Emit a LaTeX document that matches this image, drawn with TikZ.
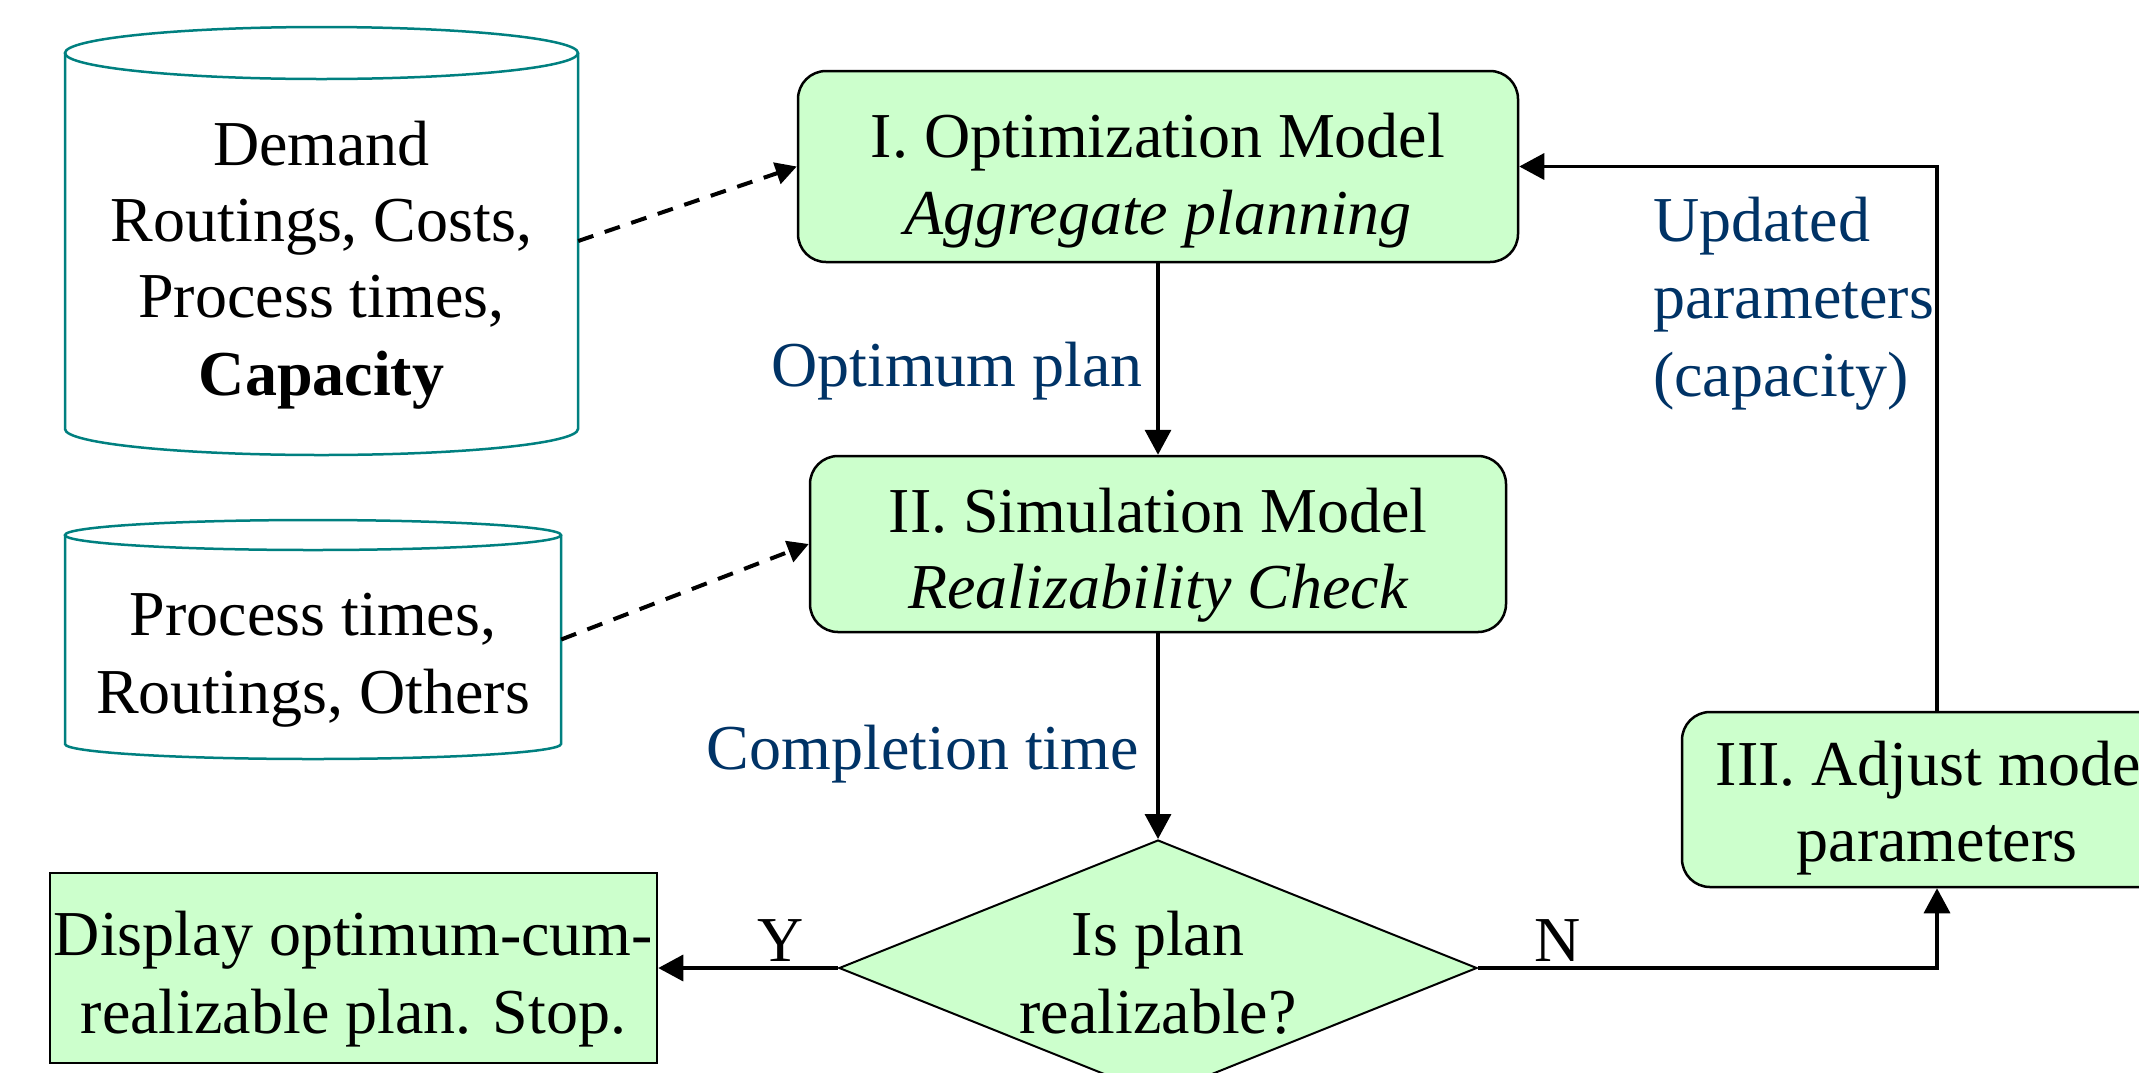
\documentclass[tikz,border=0pt]{standalone}
\usepackage{fontspec}
\setmainfont{Liberation Serif}
\usetikzlibrary{arrows.meta,shapes.geometric}
\definecolor{boxgreen}{HTML}{CCFFCC}
\definecolor{lblblue}{HTML}{003366}
\definecolor{cylteal}{HTML}{008080}
\begin{document}
\begin{tikzpicture}[x=1pt,y=-1pt,
  big/.style={font=\fontsize{64}{77}\selectfont},
  txt/.style={big, inner sep=0pt, anchor=base},
  lbl/.style={big, inner sep=0pt, text=lblblue},
  procbox/.style={draw=black, line width=2.5pt, fill=boxgreen, rounded corners=28pt, inner sep=0pt},
  plainbox/.style={draw=black, line width=2.5pt, fill=boxgreen, inner sep=0pt},
  cyl/.style={draw=cylteal, line width=2.5pt},
  holder/.style={inner sep=0pt},
  conn/.style={line width=3.5pt, -{Triangle[length=25pt,width=26pt]}},
  dconn/.style={line width=4pt, dash pattern=on 16pt off 12pt, -{Triangle[length=21pt,width=22pt]}}
]
\path[use as bounding box] (0,0) rectangle (2139,1072);
\clip (0,0) rectangle (2139,1072);
\fill[white] (0,0) rectangle (2139,1072);

% cylinders
\node[holder, minimum width=513pt, minimum height=428pt] (cylA) at (321.5,241) {};
\draw[cyl] (65,53) -- (65,429) arc[start angle=180, end angle=360, x radius=256.5pt, y radius=26pt] -- (578,53);
\draw[cyl] (321.5,53) ellipse [x radius=256.5pt, y radius=26pt];
\node[txt] (cylAt1) at (321.5,165) {Demand};
\node[txt] (cylAt2) at (321.5,241) {Routings, Costs,};
\node[txt] (cylAt3) at (321.5,317) {Process times,};
\node[txt] (cylAt4) at (321.5,395) {\bfseries Capacity};

\node[holder, minimum width=496pt, minimum height=239pt] (cylB) at (313,639.5) {};
\draw[cyl] (65,535) -- (65,744) arc[start angle=180, end angle=360, x radius=248pt, y radius=15pt] -- (561,535);
\draw[cyl] (313,535) ellipse [x radius=248pt, y radius=15pt];
\node[txt] (cylBt1) at (313,635) {Process times,};
\node[txt] (cylBt2) at (313,713) {Routings, Others};

% process boxes
\node[procbox, minimum width=720pt, minimum height=191pt] (opt) at (1158,166.5) {};
\node[txt] (optt1) at (1158,157) {I. Optimization Model};
\node[txt] (optt2) at (1158,234) {\itshape Aggregate planning};

\node[procbox, minimum width=696pt, minimum height=176pt] (sim) at (1158,544) {};
\node[txt] (simt1) at (1158,532) {II. Simulation Model};
\node[txt] (simt2) at (1158,608) {\itshape Realizability Check};

\node[diamond, draw=black, line width=2pt, fill=boxgreen, minimum width=638pt, minimum height=256pt, inner sep=0pt] (dia) at (1158,968) {};
\node[txt] (diat1) at (1158,955) {Is plan};
\node[txt] (diat2) at (1158,1033) {realizable?};

\node[plainbox, minimum width=607pt, minimum height=190pt] (disp) at (353.5,968) {};
\node[txt] (dispt1) at (353.5,955) {Display optimum-cum-};
\node[txt] (dispt2) at (353.5,1033) {realizable plan. Stop.};

\node[procbox, minimum width=510pt, minimum height=175pt] (adj) at (1937,799.5) {};
\node[txt] (adjt1) at (1937,785) {III. Adjust model};
\node[txt] (adjt2) at (1937,861) {parameters};

% connectors
\draw[dconn] (cylA.east) -- (opt.west);
\draw[dconn] (cylB.east) -- (sim.west);
\draw[conn] (opt.south) -- (sim.north);
\draw[conn] (sim.south) -- (dia.north);
\draw[conn] (dia.west) -- (disp.east);
\draw[conn] (dia.east) -| (adj.south);
\draw[conn] (adj.north) |- (opt.east);

% labels
\node[lbl, anchor=base east] (lopt) at (1143,386) {Optimum plan};
\node[lbl, anchor=base east] (lcomp) at (1139,769) {Completion time};
\node[lbl, anchor=base west] (lupd1) at (1653,241) {Updated};
\node[lbl, anchor=base west] (lupd2) at (1653,318) {parameters};
\node[lbl, anchor=base west] (lupd3) at (1653,396) {(capacity)};
\node[txt] (ly) at (781,961) {Y};
\node[txt] (ln) at (1558,961) {N};
\end{tikzpicture}
\end{document}
